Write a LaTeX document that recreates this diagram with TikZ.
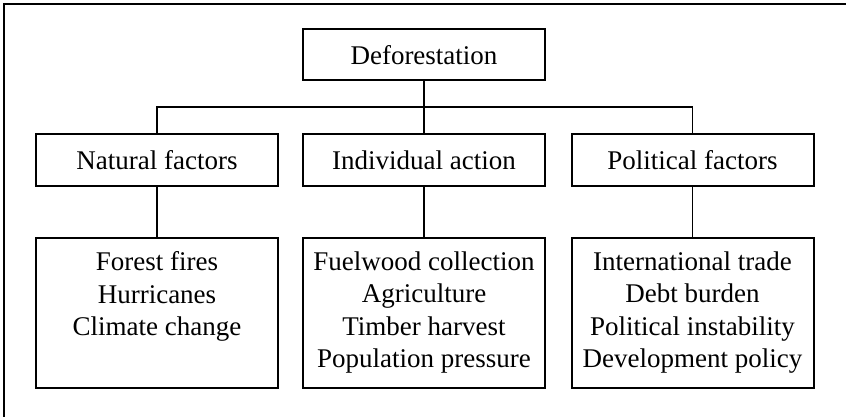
\documentclass[tikz,border=0pt]{standalone}
\usepackage{fontspec}
\setmainfont{Liberation Serif}
\usepackage{tikz}

\begin{document}
\begin{tikzpicture}[x=0.5pt,y=-0.5pt,
  box/.style={draw,line width=1pt,minimum width=121pt,minimum height=25.5pt,inner sep=0pt},
  listbox/.style={draw,line width=1pt,minimum width=121pt,minimum height=75pt,inner sep=0pt},
  listtext/.style={anchor=north,align=center,inner sep=0pt,font=\fontsize{13.5}{16.3}\selectfont},
  link/.style={line width=0.8pt},
  font=\fontsize{13.5}{16.3}\selectfont]
  \useasboundingbox (0,0) rectangle (846,417);
  % frame
  \draw[line width=1pt] (4,417) -- (4,4.5) -- (846,4.5);
  % top
  \node[box] (defo) at (424,55) {Deforestation};
  % factors
  \node[box] (natural) at (157,160) {Natural factors};
  \node[box] (individual) at (424,160) {Individual action};
  \node[box] (political) at (692.5,160) {Political factors};
  % lists
  \node[listbox] (natlist) at (157,313) {};
  \node[listbox] (indlist) at (424,313) {};
  \node[listbox] (pollist) at (692.5,313) {};
  \node[listtext] (nattext) at ([yshift=-7pt]natlist.north) {Forest fires\\Hurricanes\\Climate change};
  \node[listtext] (indtext) at ([yshift=-7pt]indlist.north) {Fuelwood collection\\Agriculture\\Timber harvest\\Population pressure};
  \node[listtext] (poltext) at ([yshift=-7pt]pollist.north) {International trade\\Debt burden\\Political instability\\Development policy};
  % links
  \coordinate (bus) at (424,107);
  \draw[link] (defo.south) -- (bus);
  \draw[link] (natural.north) |- (bus) -| (political.north);
  \draw[link] (bus) -- (individual.north);
  \draw[link] (natural.south) -- (natlist.north);
  \draw[link] (individual.south) -- (indlist.north);
  \draw[link] (political.south) -- (pollist.north);
\end{tikzpicture}
\end{document}
